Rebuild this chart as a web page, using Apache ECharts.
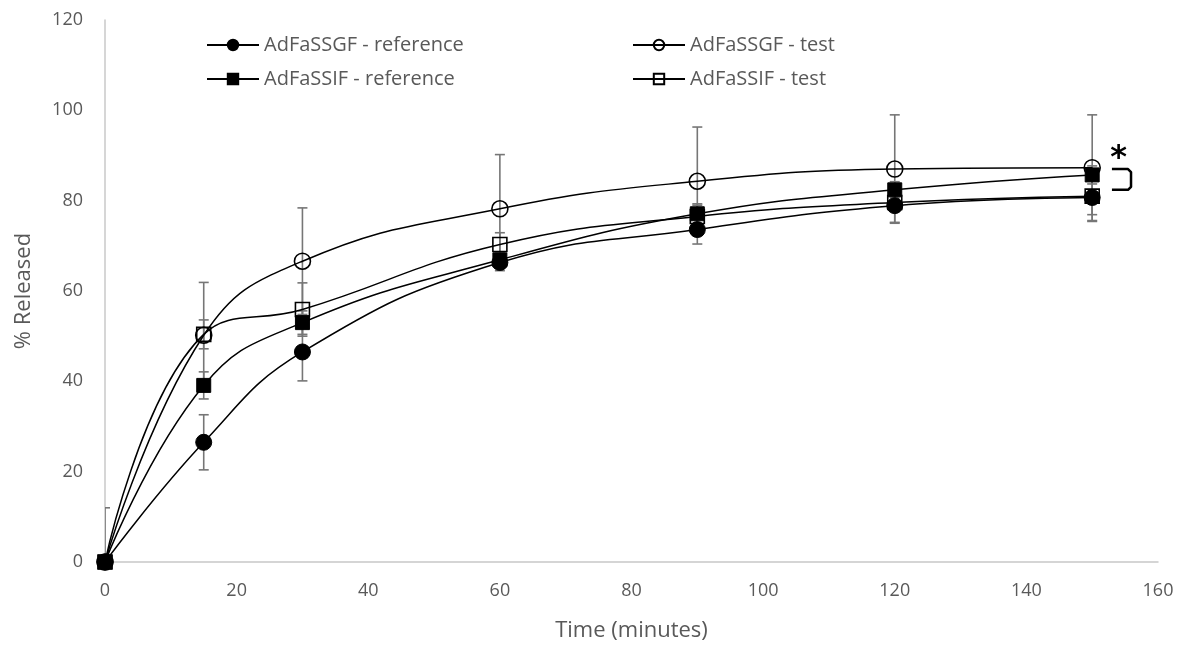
<!DOCTYPE html>
<html>
<head>
<meta charset="utf-8">
<script src="https://cdn.jsdelivr.net/npm/echarts@6/dist/echarts.min.js"></script>
<style>
  html, body { margin: 0; padding: 0; background: #fff; }
  #chart { width: 1180px; height: 647px; }
</style>
</head>
<body>
<div id="chart"></div>
<script>
// ---- data ----
const times = [0, 15, 30, 60, 90, 120, 150];
const sgfRef = [0, 26.5, 46.5, 66.3, 73.6, 78.9, 80.7];
const sgfRefErr = [0, 6.1, 6.4, 1.8, 3.2, 3.7, 5.3];
const sgfTest = [0, 50.2, 66.6, 78.2, 84.3, 87.0, 87.3];
const sgfTestErr = [12, 11.7, 11.8, 12.0, 12.0, 12.0, 11.7];
const sifRef = [0, 39.1, 53.0, 66.9, 77.1, 82.4, 85.7];
const sifRefErr = [0, 3.0, 2.6, 1.5, 2.2, 1.8, 2.0];
const sifTest = [0, 50.4, 55.9, 70.3, 76.5, 79.6, 81.0];
const sifTestErr = [0, 3.2, 5.9, 2.6, 2.5, 2.0, 4.1];
const seriesNames = ['AdFaSSGF - reference', 'AdFaSSGF - test', 'AdFaSSIF - reference', 'AdFaSSIF - test'];
const xTicks = { min: 0, max: 160, interval: 20 };
const yTicks = { min: 0, max: 120, interval: 20 };

const FONT = '"Open Sans"';
const TXT = '#595959';

function pairs(vals) { return times.map((t, i) => [t, vals[i]]); }
function errData(vals, errs) {
  return times.map((t, i) => [t, vals[i], errs[i]]).filter(d => d[2] > 0);
}
function errSeries(vals, errs) {
  return {
    type: 'custom',
    clip: true,
    z: 1,
    silent: true,
    data: errData(vals, errs),
    renderItem: function (params, api) {
      const x = api.value(0), y = api.value(1), e = api.value(2);
      const top = api.coord([x, y + e]);
      const bot = api.coord([x, y - e]);
      const hw = 5;
      const st = { stroke: '#767676', lineWidth: 1.6 };
      return {
        type: 'group',
        children: [
          { type: 'line', shape: { x1: top[0], y1: top[1], x2: bot[0], y2: bot[1] }, style: st },
          { type: 'line', shape: { x1: top[0] - hw, y1: top[1], x2: top[0] + hw, y2: top[1] }, style: st },
          { type: 'line', shape: { x1: bot[0] - hw, y1: bot[1], x2: bot[0] + hw, y2: bot[1] }, style: st }
        ]
      };
    }
  };
}
function lineSeries(name, vals, symbol, size, filled) {
  return {
    name: name,
    type: 'line',
    z: 3,
    smooth: 0.45,
    data: pairs(vals),
    symbol: symbol,
    symbolSize: size,
    showAllSymbol: true,
    lineStyle: { color: '#000', width: 1.5 },
    itemStyle: filled
      ? { color: '#000', borderColor: '#000', borderWidth: 1 }
      : { color: 'rgba(255,255,255,0)', borderColor: '#000', borderWidth: 1.6 },
    emphasis: { disabled: true }
  };
}

const chart = echarts.init(document.getElementById('chart'), null, { renderer: 'canvas' });

const legendCommon = {
  orient: 'vertical',
  itemWidth: 52,
  itemHeight: 13,
  itemGap: 14,
  textStyle: { color: TXT, fontFamily: FONT, fontSize: 20, padding: [0, 0, 0, 0] },
  selectedMode: false
};

chart.setOption({
  animation: false,
  backgroundColor: '#fff',
  grid: { left: 105, right: 22, top: 20, bottom: 84, containLabel: false },
  legend: [
    Object.assign({ left: 201, top: 30, data: [seriesNames[0], seriesNames[2]] }, legendCommon),
    Object.assign({ left: 627, top: 30, data: [seriesNames[1], seriesNames[3]] }, legendCommon)
  ],
  xAxis: {
    type: 'value',
    min: xTicks.min, max: xTicks.max, interval: xTicks.interval,
    name: 'Time (minutes)',
    nameLocation: 'middle',
    nameGap: 58,
    nameTextStyle: { color: TXT, fontFamily: FONT, fontSize: 22 },
    axisLine: { show: true, onZero: false, lineStyle: { color: '#c8c8c8', width: 1.5 } },
    axisTick: { show: false },
    splitLine: { show: false },
    axisLabel: { color: TXT, fontFamily: FONT, fontSize: 18, margin: 20 }
  },
  yAxis: {
    type: 'value',
    min: yTicks.min, max: yTicks.max, interval: yTicks.interval,
    name: '% Released',
    nameLocation: 'middle',
    nameGap: 70,
    nameTextStyle: { color: TXT, fontFamily: FONT, fontSize: 22 },
    axisLine: { show: true, lineStyle: { color: '#c8c8c8', width: 1.5 } },
    axisTick: { show: false },
    splitLine: { show: false },
    axisLabel: { color: TXT, fontFamily: FONT, fontSize: 18, margin: 22 }
  },
  series: [
    errSeries(sgfRef, sgfRefErr),
    errSeries(sgfTest, sgfTestErr),
    errSeries(sifRef, sifRefErr),
    errSeries(sifTest, sifTestErr),
    lineSeries(seriesNames[0], sgfRef, 'circle', 16, true),
    lineSeries(seriesNames[1], sgfTest, 'circle', 16, false),
    lineSeries(seriesNames[2], sifRef, 'rect', 14, true),
    lineSeries(seriesNames[3], sifTest, 'rect', 14, false)
  ]
});

// significance annotation (bracket + asterisk) placed in data coordinates
const bTopY = 87.0, bBotY = 82.4, bX0 = 153.0, bX1 = 155.9;
const p0 = chart.convertToPixel({ gridIndex: 0 }, [bX0, bTopY]);
const p1 = chart.convertToPixel({ gridIndex: 0 }, [bX1, bTopY]);
const p2 = chart.convertToPixel({ gridIndex: 0 }, [bX1, bBotY]);
const p3 = chart.convertToPixel({ gridIndex: 0 }, [bX0, bBotY]);
const star = chart.convertToPixel({ gridIndex: 0 }, [154.0, 89.4]);
chart.setOption({
  graphic: [
    {
      type: 'polyline',
      shape: { points: [p0, [p1[0] - 3, p1[1]], [p1[0], p1[1] + 3], [p2[0], p2[1] - 3], [p2[0] - 3, p2[1]], p3] },
      style: { stroke: '#000', lineWidth: 2.5, fill: null, lineJoin: 'round' },
      z: 10
    },
    {
      type: 'text',
      x: star[0], y: star[1],
      style: { text: '*', font: 'bold 32px "DejaVu Sans"', fill: '#000', align: 'center', verticalAlign: 'middle' },
      z: 10
    }
  ]
});
</script>
</body>
</html>
